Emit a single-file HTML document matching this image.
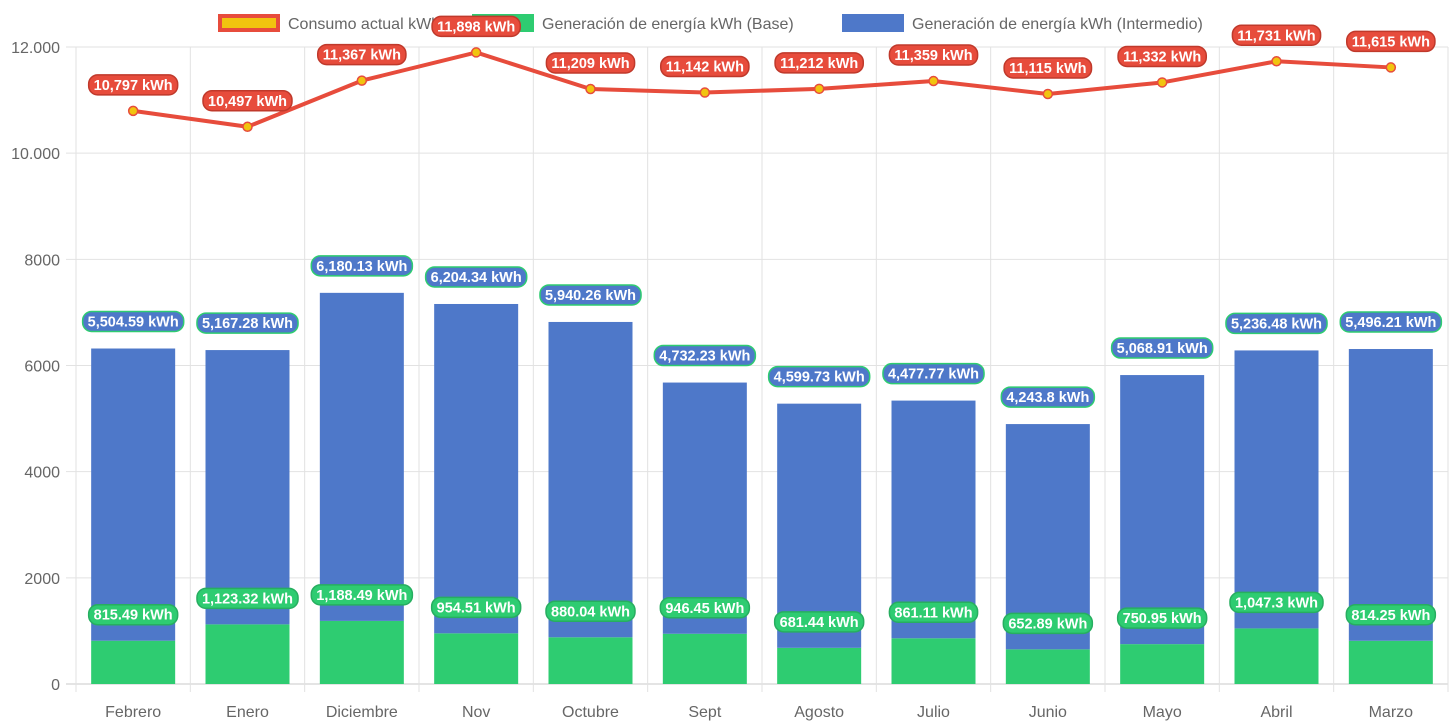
<!DOCTYPE html>
<html><head><meta charset="utf-8">
<style>
html,body{margin:0;padding:0;background:#fff;}
svg{display:block;font-family:"Liberation Sans",Arial,sans-serif;}
</style></head>
<body>
<svg id="chart" width="1456" height="727" viewBox="0 0 1456 727"></svg>
<script>
const categories=["Febrero","Enero","Diciembre","Nov","Octubre","Sept","Agosto","Julio","Junio","Mayo","Abril","Marzo"];
const baseValues=[815.49,1123.32,1188.49,954.51,880.04,946.45,681.44,861.11,652.89,750.95,1047.3,814.25];
const interValues=[5504.59,5167.28,6180.13,6204.34,5940.26,4732.23,4599.73,4477.77,4243.8,5068.91,5236.48,5496.21];
const consumoValues=[10797,10497,11367,11898,11209,11142,11212,11359,11115,11332,11731,11615];
const baseLabels=["815.49","1,123.32","1,188.49","954.51","880.04","946.45","681.44","861.11","652.89","750.95","1,047.3","814.25"];
const interLabels=["5,504.59","5,167.28","6,180.13","6,204.34","5,940.26","4,732.23","4,599.73","4,477.77","4,243.8","5,068.91","5,236.48","5,496.21"];
const consumoLabels=["10,797","10,497","11,367","11,898","11,209","11,142","11,212","11,359","11,115","11,332","11,731","11,615"];
const yTicks=[0,2000,4000,6000,8000,10000,12000];
const yTickLabels=["0","2000","4000","6000","8000","10.000","12.000"];

const NS="http://www.w3.org/2000/svg";
const svg=document.getElementById('chart');
const L=76,R=1448,T=47,B=684,YMAX=12000;
const cw=(R-L)/categories.length;
const y=v=>B-(v/YMAX)*(B-T);
const xc=i=>L+cw*(i+0.5);
function mk(tag,attrs,parent){const e=document.createElementNS(NS,tag);for(const k in attrs)e.setAttribute(k,attrs[k]);(parent||svg).appendChild(e);return e;}

const grid=mk('g',{});


yTicks.forEach((t,i)=>{
  mk('line',{x1:66,x2:R,y1:y(t),y2:y(t),stroke:i===0?'#c8c8c8':'#e2e2e2','stroke-width':1},grid);
  const tx=mk('text',{x:60,y:y(t)+6,'text-anchor':'end','font-size':16,fill:'#666'});
  tx.textContent=yTickLabels[i];
  
  
});
for(let i=0;i<=categories.length;i++){
  mk('line',{x1:L+cw*i,x2:L+cw*i,y1:T,y2:B+8,stroke:'#e2e2e2','stroke-width':1},grid);
}
categories.forEach((c,i)=>{
  const tx=mk('text',{x:xc(i),y:717,'text-anchor':'middle','font-size':16,fill:'#666'});
  tx.textContent=c;
  
  
});

const bw=84;
categories.forEach((c,i)=>{
  const b=mk('rect',{x:xc(i)-bw/2,y:y(baseValues[i]),width:bw,height:B-y(baseValues[i]),fill:'#2ecc71'});
  
  
  const top=baseValues[i]+interValues[i];
  const r=mk('rect',{x:xc(i)-bw/2,y:y(top),width:bw,height:y(baseValues[i])-y(top),fill:'#4e78c9'});
  
  
});

let d='';
consumoValues.forEach((v,i)=>{d+=(i?'L':'M')+xc(i)+' '+y(v);});
const ln=mk('path',{d:d,fill:'none',stroke:'#e74c3c','stroke-width':4,'stroke-linejoin':'round'});


consumoValues.forEach((v,i)=>{
  const p=mk('circle',{cx:xc(i),cy:y(v),r:4.5,fill:'#f1c40f',stroke:'#e74c3c','stroke-width':1.5});
  
  
});

function label(cx,cy,text,bg,border,name){
  const g=mk('g',{});
  
  
  const t=mk('text',{x:cx,y:cy+5,'text-anchor':'middle','font-size':14.5,'font-weight':'bold',fill:'#fff'},g);
  t.textContent=text;
  const w=t.getComputedTextLength()+10;
  const r=mk('rect',{x:cx-w/2,y:cy-10,width:w,height:20,rx:9,fill:bg,stroke:border,'stroke-width':1.5});
  g.insertBefore(r,t);
}
categories.forEach((c,i)=>{
  label(xc(i),y(baseValues[i])-26,baseLabels[i]+' kWh','#2ecc71','#27ae60','label-base');
  label(xc(i),y(baseValues[i]+interValues[i])-27,interLabels[i]+' kWh','#4e78c9','#2ecc71','label-intermedio');
});

const lg=mk('g',{});


const items=[
  {x:218,fill:'#f1c40f',stroke:'#e74c3c',text:'Consumo actual kWh',n:'legend-consumo'},
  {x:472,fill:'#2ecc71',stroke:'#2ecc71',text:'Generación de energía kWh (Base)',n:'legend-base'},
  {x:842,fill:'#4e78c9',stroke:'#4e78c9',text:'Generación de energía kWh (Intermedio)',n:'legend-intermedio'}
];
items.forEach(it=>{
  const g=mk('g',{},lg);
  
  
  mk('rect',{x:it.x+2,y:16,width:58,height:14,fill:it.fill,stroke:it.stroke,'stroke-width':4},g);
  const t=mk('text',{x:it.x+70,y:29,'font-size':16,fill:'#666'},g);
  t.textContent=it.text;
});

categories.forEach((c,i)=>{
  label(xc(i),y(consumoValues[i])-26,consumoLabels[i]+' kWh','#e74c3c','#c0392b','label-consumo');
});
</script>
</body></html>
